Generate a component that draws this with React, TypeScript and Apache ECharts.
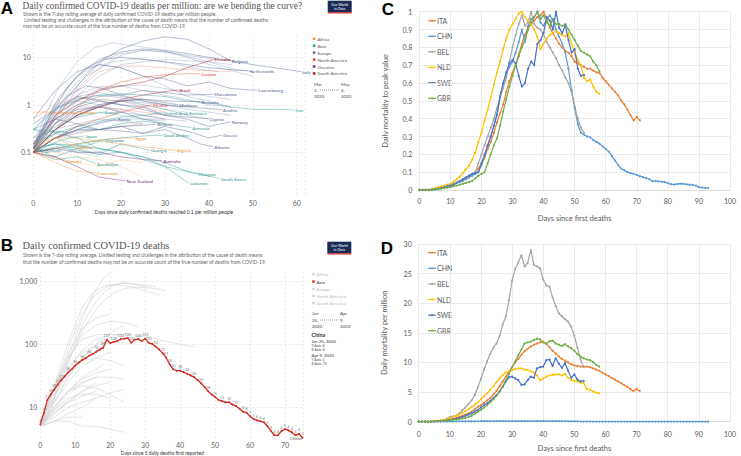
import React, { useEffect, useRef } from 'react';
import * as echarts from 'echarts';

// ---------------- Panel A (deaths per million, days since 0.1/million) ----------------
const aContinents = ['Africa', 'Asia', 'Europe', 'North America', 'Oceania', 'South America'];
const aXTicks = [0, 10, 20, 30, 40, 50, 60];

const aEurope: [string, number[][]][] = [
  ['Italy', [[0, 0.12], [3, 0.5], [6, 1.5], [10, 4], [15, 9], [20, 13], [25, 15], [30, 14], [35, 12], [40, 10], [45, 8.5], [50, 7], [55, 6], [61, 5]]],
  ['Belgium', [[0, 0.12], [4, 0.4], [8, 1.5], [12, 4], [16, 9], [20, 15], [25, 22], [30, 27], [35, 24], [40, 15], [45, 8.3]]],
  ['Netherlands', [[0, 0.12], [4, 0.6], [8, 2.5], [12, 6], [16, 9], [20, 10], [25, 9], [30, 8], [35, 7], [40, 6], [45, 5.5], [49, 5.2]]],
  ['Luxembourg', [[0, 0.5], [5, 2], [10, 5], [15, 7], [20, 6], [25, 4], [30, 3.5], [35, 2.5], [40, 3], [45, 2.2], [51, 2]]],
  ['Macedonia', [[0, 0.15], [5, 0.5], [10, 1], [15, 1.5], [20, 1.6], [25, 2], [30, 1.8], [35, 1.6], [41, 1.66]]],
  ['Moldova', [[0, 0.12], [5, 0.3], [10, 0.6], [15, 0.9], [20, 1.2], [25, 1.3], [30, 1.1], [33, 1.0]]],
  ['Romania', [[0, 0.1], [5, 0.3], [10, 0.7], [15, 1], [20, 1.2], [25, 1.3], [30, 1.2], [38, 1.17]]],
  ['Austria', [[0, 0.15], [4, 0.6], [8, 1.6], [12, 2.5], [16, 2.2], [20, 1.6], [25, 1.2], [30, 1], [35, 0.9], [43, 0.79]]],
  ['Cyprus', [[0, 0.4], [5, 0.8], [10, 1.5], [15, 1.2], [20, 1], [25, 0.8], [30, 0.6], [35, 0.55], [40, 0.51]]],
  ['Norway', [[0, 0.12], [5, 0.4], [10, 0.9], [15, 1.2], [20, 1], [25, 0.9], [30, 0.6], [35, 0.5], [40, 0.35], [45, 0.44]]],
  ['Russia', [[0, 0.1], [5, 0.2], [10, 0.3], [15, 0.42], [19, 0.5]]],
  ['Belarus', [[0, 0.1], [5, 0.2], [10, 0.28], [15, 0.3], [20, 0.35], [25, 0.37], [28, 0.39]]],
  ['Greece', [[0, 0.1], [5, 0.2], [10, 0.3], [15, 0.3], [20, 0.28], [25, 0.25], [30, 0.35], [35, 0.28], [40, 0.2], [43, 0.23]]],
  ['Albania', [[0, 0.3], [5, 0.5], [10, 0.4], [15, 0.3], [20, 0.35], [25, 0.25], [30, 0.3], [35, 0.2], [38, 0.15], [41, 0.13]]],
  ['Spain', [[0, 0.13], [3, 0.7], [6, 2.5], [10, 8], [14, 16], [18, 20], [22, 18], [28, 15], [34, 11], [40, 8], [46, 5.5], [50, 5]]],
  ['France', [[0, 0.11], [5, 0.5], [10, 2.2], [15, 6], [20, 11], [25, 14], [30, 13], [35, 10], [40, 7], [46, 5], [50, 4]]],
  ['United Kingdom', [[0, 0.12], [5, 0.8], [10, 3], [15, 8], [20, 12], [25, 14], [30, 13], [35, 11], [40, 9.5], [44, 8.5]]],
  ['Sweden', [[0, 0.1], [5, 0.4], [10, 1.5], [15, 4], [20, 7], [25, 8], [30, 9], [35, 8.5], [40, 8], [45, 7]]],
  ['Ireland', [[0, 0.12], [6, 1], [12, 4], [18, 8], [24, 9.5], [30, 8], [36, 6], [42, 5]]],
  ['Switzerland', [[0, 0.12], [5, 1], [10, 4], [15, 7], [20, 6], [25, 4], [30, 2.5], [35, 1.5], [40, 1.2], [45, 0.9]]],
  ['Denmark', [[0, 0.15], [5, 0.7], [10, 1.5], [15, 1.8], [20, 1.5], [25, 1.2], [30, 1], [35, 0.8], [40, 0.7], [45, 0.6]]],
  ['Portugal', [[0, 0.1], [5, 0.6], [10, 1.6], [15, 2.4], [20, 2.5], [25, 2], [30, 1.6], [35, 1.3], [40, 1], [45, 0.9]]],
  ['Germany', [[0, 0.1], [5, 0.4], [10, 1.2], [15, 2.2], [20, 2.5], [25, 2.6], [30, 2.2], [35, 1.8], [40, 1.5], [45, 1.3]]],
  ['Slovenia', [[0, 0.2], [5, 0.6], [10, 1.3], [15, 1.6], [20, 1.4], [25, 1], [30, 0.8], [35, 0.6], [40, 0.5]]],
  ['Bosnia and Herzegovina', [[0, 0.2], [5, 0.5], [10, 0.8], [15, 0.9], [20, 0.7], [25, 0.6], [30, 0.5], [35, 0.45]]],
  ['Hungary', [[0, 0.1], [5, 0.3], [10, 0.6], [15, 1], [20, 1.2], [25, 1.1], [30, 1], [34, 0.9]]],
  ['Poland', [[0, 0.1], [5, 0.2], [10, 0.3], [15, 0.4], [20, 0.5], [25, 0.5], [30, 0.45]]],
  ['Serbia', [[0, 0.15], [5, 0.4], [10, 0.8], [15, 0.9], [20, 0.7], [25, 0.5], [30, 0.5]]],
  ['Finland', [[0, 0.15], [5, 0.4], [10, 0.7], [15, 0.9], [20, 0.8], [25, 0.6], [30, 0.5]]],
  ['Estonia', [[0, 0.3], [5, 0.9], [10, 1.2], [15, 1], [20, 0.7], [25, 0.5], [30, 0.4]]],
  ['Croatia', [[0, 0.2], [5, 0.3], [10, 0.4], [15, 0.5], [20, 0.45], [25, 0.4]]],
];
const aNorthAmerica: [string, number[][]][] = [
  ['Canada', [[0, 0.1], [5, 0.3], [10, 0.9], [15, 2], [20, 3], [25, 3.8], [30, 4.3], [35, 4.5], [38, 4.5]]],
  ['Mexico', [[0, 0.1], [5, 0.2], [10, 0.35], [15, 0.5], [20, 0.7], [25, 0.9], [27, 1.0]]],
  ['United States', [[0, 0.1], [5, 0.5], [10, 2], [15, 5], [20, 6.5], [25, 6.5], [30, 6], [35, 5.5], [40, 5.2], [45, 5]]],
  ['Panama', [[0, 0.5], [5, 1], [10, 1.4], [15, 1.3], [20, 1.2], [25, 0.9], [30, 0.7]]],
  ['Dominican Republic', [[0, 0.15], [5, 0.5], [10, 0.9], [15, 0.9], [20, 0.8], [25, 0.7], [30, 0.6]]],
];
const aSouthAmerica: [string, number[][]][] = [
  ['Ecuador', [[0, 0.12], [5, 0.6], [10, 1.2], [15, 2], [20, 2.5], [25, 3], [30, 4], [35, 6], [41, 9]]],
  ['Brazil', [[0, 0.1], [5, 0.3], [10, 0.6], [15, 0.9], [20, 1.3], [25, 1.6], [30, 1.9], [33, 2.05]]],
  ['Peru', [[0, 0.1], [5, 0.3], [10, 0.6], [15, 0.9], [20, 1.2], [25, 1.4]]],
  ['Chile', [[0, 0.1], [5, 0.2], [10, 0.25], [15, 0.3], [20, 0.35], [25, 0.4]]],
];
const aAsia: [string, number[][]][] = [
  ['Iran', [[0, 0.3], [5, 0.8], [10, 1.3], [15, 1.6], [20, 1.7], [25, 1.6], [30, 1.5], [35, 1.2], [40, 1.1], [45, 0.9], [50, 0.8], [55, 0.8], [59.5, 0.78]]],
  ['Kuwait', [[0, 0.12], [4, 0.3], [8, 0.5], [12, 0.6], [16, 0.7]]],
  ['United Arab Emirates', [[0, 0.1], [5, 0.2], [10, 0.35], [15, 0.45], [20, 0.55], [25, 0.6], [29.5, 0.68]]],
  ['Armenia', [[0, 0.12], [5, 0.25], [10, 0.35], [15, 0.3], [20, 0.4], [25, 0.45], [30, 0.4], [36, 0.33]]],
  ['Maldives', [[0, 0.3], [3.4, 0.28]]],
  ['Saudi Arabia', [[0, 0.1], [5, 0.12], [10, 0.15], [15, 0.18], [20, 0.2], [25, 0.22], [29.5, 0.23]]],
  ['Japan', [[0, 0.1], [4, 0.15], [8, 0.2], [11.6, 0.22]]],
  ['Singapore', [[0, 0.12], [5, 0.15], [10, 0.12], [16, 0.18]]],
  ['Kyrgyzstan', [[0, 0.12], [1, 0.11]]],
  ['Georgia', [[0, 0.12], [5, 0.08], [10, 0.12], [15, 0.09], [20, 0.15], [26.6, 0.11]]],
  ['Azerbaijan', [[0, 0.1], [5, 0.07], [10, 0.08], [14.3, 0.058]]],
  ['Malaysia', [[0, 0.12], [5, 0.15], [10, 0.14], [15, 0.12], [20, 0.1], [25, 0.08], [30, 0.05], [37.3, 0.035]]],
  ['South Korea', [[0, 0.1], [5, 0.13], [10, 0.11], [15, 0.09], [20, 0.1], [25, 0.08], [30, 0.06], [35, 0.04], [42.5, 0.028]]],
  ['Lebanon', [[0, 0.15], [5, 0.25], [10, 0.2], [15, 0.12], [20, 0.1], [25, 0.07], [30, 0.05], [35.5, 0.022]]],
  ['Turkey', [[0, 0.12], [5, 0.5], [10, 1], [15, 1.3], [20, 1.2], [25, 1], [30, 0.8], [35, 0.7]]],
  ['Israel', [[0, 0.1], [5, 0.3], [10, 0.6], [15, 0.7], [20, 0.6], [25, 0.5], [30, 0.4]]],
  ['Bahrain', [[0, 0.3], [5, 0.2], [10, 0.15], [15, 0.1], [20, 0.15]]],
  ['Iraq', [[0, 0.1], [5, 0.15], [10, 0.1], [15, 0.08]]],
  ['Qatar', [[0, 0.1], [5, 0.12], [10, 0.14], [15, 0.18]]],
  ['Philippines', [[0, 0.1], [5, 0.12], [10, 0.13], [15, 0.12], [20, 0.1]]],
];
const aAfrica: [string, number[][]][] = [
  ['Sao Tome and Principe', [[0, 0.7], [3.6, 0.7]]],
  ['Egypt', [[0, 0.1], [5, 0.12], [10, 0.15], [15, 0.18], [20, 0.2], [23, 0.2]]],
  ['Djibouti', [[0, 0.15], [5, 0.2], [9.5, 0.13]]],
  ['Algeria', [[0, 0.12], [5, 0.2], [10, 0.2], [15, 0.17], [20, 0.15], [25, 0.13], [32.5, 0.11]]],
  ['Somalia', [[0, 0.1], [4, 0.08], [7.2, 0.067]]],
  ['Cameroon', [[0, 0.1], [5, 0.06], [10, 0.04], [14.3, 0.037]]],
  ['South Africa', [[0, 0.1], [5, 0.08], [10, 0.06], [15, 0.05], [20, 0.07], [25, 0.06]]],
  ['Morocco', [[0, 0.1], [5, 0.1], [10, 0.08], [15, 0.07], [20, 0.05], [25, 0.03]]],
];
const aOceania: [string, number[][]][] = [
  ['Australia', [[0, 0.1], [5, 0.12], [10, 0.1], [15, 0.1], [20, 0.08], [25, 0.07], [29.3, 0.067]]],
  ['New Zealand', [[0, 0.1], [5, 0.08], [10, 0.05], [15, 0.03], [21, 0.025]]],
];
const aLabeled = ['Italy', 'Belgium', 'Netherlands', 'Luxembourg', 'Macedonia', 'Moldova', 'Romania', 'Austria', 'Cyprus', 'Norway', 'Russia', 'Belarus', 'Greece', 'Albania',
  'Canada', 'Mexico', 'Ecuador', 'Brazil', 'Iran', 'Kuwait', 'United Arab Emirates', 'Armenia', 'Maldives', 'Saudi Arabia', 'Japan', 'Singapore', 'Kyrgyzstan', 'Georgia',
  'Azerbaijan', 'Malaysia', 'South Korea', 'Lebanon', 'Sao Tome and Principe', 'Egypt', 'Djibouti', 'Algeria', 'Somalia', 'Cameroon', 'Australia', 'New Zealand'];

// ---------------- Panel B (daily deaths, days since 5 daily deaths) ----------------
const bContinents = ['Africa', 'Asia', 'Europe', 'North America', 'South America'];
const bChina = [5.4, 8, 13, 16, 19, 23, 27, 31, 36, 40, 46, 51, 56, 60, 66, 70, 76, 82, 88, 117,
  104, 108, 112, 120, 122, 125, 105, 118, 120, 112, 122, 105, 101, 92, 82, 72, 61, 48, 40, 38,
  38, 36, 34, 32, 30, 27, 24, 21, 18, 16, 14.5, 13, 12.5, 12, 12, 11, 10.5, 9.5, 8.5, 8.2,
  7.2, 6.5, 6.2, 6, 5.8, 5, 4.2, 3.6, 3.6, 4.2, 4.5, 4.3, 4, 3.6, 3.8, 3.3];
const bOthers: [string, number[][]][] = [
  ['United States', [[0, 5], [3, 10], [6, 30], [9, 90], [12, 250], [15, 600], [18, 1100], [21, 1500]]],
  ['Italy', [[0, 5], [3, 12], [6, 30], [9, 70], [12, 160], [15, 300], [18, 480], [21, 640], [24, 760], [27, 800], [30, 790], [33, 760], [36, 700]]],
  ['Spain', [[0, 5], [3, 15], [6, 50], [9, 150], [12, 380], [15, 650], [18, 820], [21, 880], [24, 850], [27, 780], [30, 700], [34, 600]]],
  ['France', [[0, 5], [3, 10], [6, 25], [9, 70], [12, 200], [15, 400], [18, 650], [21, 850], [24, 950], [27, 900], [30, 800]]],
  ['United Kingdom', [[0, 6], [3, 15], [6, 40], [9, 120], [12, 300], [15, 550], [18, 750], [21, 880], [24, 920], [27, 900], [30, 850], [33, 820]]],
  ['Germany', [[0, 6], [4, 20], [8, 60], [12, 140], [16, 200], [20, 230], [24, 220], [28, 190]]],
  ['Iran', [[0, 6], [4, 15], [8, 40], [12, 80], [16, 120], [20, 140], [24, 145], [28, 135], [32, 125], [36, 110], [40, 100], [44, 90]]],
  ['Belgium', [[0, 5], [4, 20], [8, 70], [12, 180], [16, 260], [20, 300]]],
  ['Netherlands', [[0, 5], [4, 20], [8, 60], [12, 120], [16, 140], [20, 145], [24, 130]]],
  ['Brazil', [[0, 5], [4, 12], [8, 30], [12, 60], [16, 100], [20, 150], [24, 200]]],
  ['Canada', [[0, 5], [4, 12], [8, 30], [12, 60], [16, 100], [20, 130]]],
  ['Turkey', [[0, 6], [4, 20], [8, 45], [12, 75], [16, 95], [20, 110], [24, 105]]],
  ['Switzerland', [[0, 5], [4, 15], [8, 35], [12, 55], [16, 60], [20, 55], [24, 45]]],
  ['Sweden', [[0, 5], [4, 12], [8, 25], [12, 45], [16, 60], [20, 75]]],
  ['Portugal', [[0, 5], [4, 10], [8, 18], [12, 25], [16, 30], [20, 30], [24, 28]]],
  ['Austria', [[0, 5], [4, 10], [8, 18], [12, 22], [16, 20], [20, 16], [24, 12]]],
  ['Ireland', [[0, 5], [4, 10], [8, 18], [12, 28], [16, 35], [20, 40]]],
  ['Japan', [[0, 5], [4, 6], [8, 8], [12, 10], [16, 14], [20, 17], [24, 19]]],
  ['South Korea', [[0, 5], [4, 6], [8, 6], [12, 5], [16, 5], [20, 4.5], [24, 4]]],
  ['Indonesia', [[0, 5], [4, 8], [8, 13], [12, 18], [16, 22], [20, 25]]],
  ['Philippines', [[0, 5], [4, 7], [8, 10], [12, 12], [16, 14]]],
  ['India', [[0, 5], [4, 9], [8, 16], [12, 24], [16, 30]]],
  ['Denmark', [[0, 5], [4, 9], [8, 14], [12, 16], [16, 16], [20, 14]]],
  ['Ecuador', [[0, 5], [4, 10], [8, 18], [12, 30], [16, 40], [18, 48]]],
  ['Romania', [[0, 5], [4, 8], [8, 12], [12, 15], [16, 18]]],
  ['Mexico', [[0, 5], [4, 8], [8, 12], [12, 18], [16, 25]]],
  ['Pakistan', [[0, 5], [4, 6], [8, 7], [12, 7]]],
];

// ---------------- Panels C & D (Excel charts, values per day since first deaths) ----------------
const cdCountries = ['ITA', 'CHN', 'BEL', 'NLD', 'SWE', 'GBR'];

const itaC = [0, 0, 0, 0, 0.003, 0.005, 0.008, 0.01, 0.015, 0.02, 0.025, 0.03, 0.04, 0.05, 0.06, 0.07, 0.08, 0.09, 0.1, 0.12,
  0.15, 0.18, 0.23, 0.27, 0.32, 0.38, 0.43, 0.48, 0.55, 0.61, 0.66, 0.7, 0.76, 0.82, 0.87, 0.91, 0.93, 0.95, 0.97, 0.98,
  1.0, 0.96, 0.91, 0.88, 0.85, 0.82, 0.8, 0.78, 0.77, 0.75, 0.72, 0.71, 0.7, 0.69, 0.68, 0.68, 0.67, 0.66, 0.655, 0.63,
  0.61, 0.59, 0.57, 0.55, 0.53, 0.5, 0.48, 0.45, 0.42, 0.39, 0.41, 0.39];
const chnC = [0, 0, 0, 0, 0.005, 0.005, 0.008, 0.01, 0.015, 0.02, 0.03, 0.035, 0.04, 0.045, 0.05, 0.06, 0.07, 0.08, 0.09, 0.1,
  0.14, 0.19, 0.25, 0.3, 0.36, 0.43, 0.53, 0.6, 0.65, 0.69, 0.72, 0.77, 0.83, 0.9, 0.83, 0.92, 0.96, 0.97, 1.0, 0.94,
  0.92, 0.96, 0.98, 0.95, 0.9, 0.86, 0.82, 0.77, 0.68, 0.56, 0.46, 0.37, 0.32, 0.31, 0.3, 0.295, 0.28, 0.27, 0.26, 0.245,
  0.23, 0.215, 0.19, 0.165, 0.14, 0.12, 0.11, 0.1, 0.095, 0.09, 0.085, 0.077, 0.072, 0.067, 0.06, 0.05, 0.05, 0.048, 0.047, 0.044,
  0.038, 0.033, 0.03, 0.033, 0.036, 0.034, 0.032, 0.03, 0.028, 0.025, 0.016, 0.014, 0.012, 0.011];
const belC = [0, 0, 0, 0, 0, 0.005, 0.005, 0.01, 0.01, 0.02, 0.03, 0.03, 0.04, 0.05, 0.06, 0.07, 0.08, 0.09, 0.1, 0.15,
  0.2, 0.25, 0.3, 0.35, 0.4, 0.46, 0.52, 0.57, 0.63, 0.72, 0.8, 0.87, 0.93, 0.98, 0.92, 0.94, 1.0, 0.93, 0.91, 0.9,
  0.87, 0.83, 0.8, 0.77, 0.74, 0.7, 0.67, 0.63, 0.6, 0.55, 0.47, 0.4, 0.35, 0.32];
const nldC = [0, 0, 0, 0, 0.005, 0.01, 0.015, 0.02, 0.025, 0.03, 0.035, 0.045, 0.06, 0.075, 0.095, 0.115, 0.135, 0.17, 0.21, 0.27,
  0.32, 0.39, 0.45, 0.52, 0.59, 0.66, 0.72, 0.79, 0.85, 0.9, 0.93, 0.96, 0.99, 1.0, 0.97, 0.95, 0.93, 0.9, 0.86, 0.79,
  0.82, 0.85, 0.87, 0.88, 0.89, 0.88, 0.87, 0.86, 0.88, 0.82, 0.77, 0.73, 0.7, 0.63, 0.61, 0.62, 0.58, 0.55, 0.54];
const sweC = [0, 0, 0, 0, 0, 0.003, 0.005, 0.01, 0.015, 0.02, 0.025, 0.03, 0.04, 0.05, 0.06, 0.07, 0.08, 0.09, 0.095, 0.1,
  0.15, 0.2, 0.25, 0.3, 0.36, 0.42, 0.52, 0.6, 0.66, 0.71, 0.73, 0.71, 0.64, 0.58, 0.6, 0.68, 0.72, 0.7, 0.82, 0.84,
  0.88, 0.97, 0.95, 0.9, 1.0, 0.91, 0.88, 0.925, 0.84, 0.77, 0.79, 0.68, 0.64, 0.645];
const gbrC = [0, 0, 0, 0, 0, 0.003, 0.005, 0.007, 0.01, 0.013, 0.016, 0.02, 0.025, 0.03, 0.035, 0.04, 0.045, 0.05, 0.065, 0.08,
  0.09, 0.1, 0.15, 0.2, 0.25, 0.29, 0.36, 0.44, 0.51, 0.58, 0.64, 0.7, 0.75, 0.8, 0.84, 0.9, 0.94, 0.97, 1.0, 0.96,
  0.98, 0.94, 0.92, 0.96, 0.93, 0.93, 0.92, 0.93, 0.9, 0.87, 0.84, 0.81, 0.78, 0.77, 0.76, 0.75, 0.72, 0.7, 0.665];

const itaD = [0, 0, 0, 0, 0, 0.05, 0.1, 0.15, 0.2, 0.3, 0.4, 0.5, 0.6, 0.8, 1.0, 1.2, 1.4, 1.7, 2.1, 2.5,
  2.8, 3.2, 3.6, 4.0, 4.6, 5.2, 6.0, 6.8, 7.6, 8.4, 9.2, 10.0, 10.6, 11.3, 11.9, 12.3, 12.7, 13.0, 13.2, 13.4,
  13.5, 13.1, 12.6, 12.0, 11.5, 11.0, 10.6, 10.3, 10.0, 9.7, 9.5, 9.4, 9.3, 9.3, 9.3, 9.2, 9.0, 8.8, 8.6, 8.3,
  8.0, 7.7, 7.4, 7.1, 6.8, 6.5, 6.2, 5.9, 5.5, 5.2, 5.5, 5.2];
const chnD = [0, 0, 0, 0, 0, 0.005, 0.01, 0.01, 0.015, 0.02, 0.03, 0.03, 0.035, 0.04, 0.045, 0.05, 0.06, 0.06, 0.07, 0.075,
  0.08, 0.085, 0.09, 0.09, 0.095, 0.1, 0.1, 0.1, 0.1, 0.1, 0.1, 0.1, 0.1, 0.1, 0.1, 0.1, 0.1, 0.1, 0.1, 0.1,
  0.1, 0.1, 0.1, 0.1, 0.09, 0.09, 0.08, 0.08, 0.07, 0.06, 0.05, 0.04, 0.035, 0.03, 0.03, 0.03, 0.03, 0.025, 0.025, 0.025,
  0.02, 0.02, 0.02, 0.015, 0.015, 0.01, 0.01, 0.01, 0.01, 0.01, 0.01, 0.01, 0.01, 0.01, 0.01, 0.005, 0.005, 0.005, 0.005, 0.005,
  0.005, 0.005, 0.005, 0.005, 0.005, 0.005, 0.005, 0.005, 0.005, 0.005, 0.002, 0.002, 0.002, 0.002];
const belD = [0, 0, 0, 0, 0.05, 0.1, 0.15, 0.2, 0.3, 0.5, 0.8, 0.9, 1.0, 1.4, 1.9, 2.4, 3.0, 3.6, 4.5, 5.8,
  7.3, 8.8, 10.2, 11.5, 12.5, 13.2, 14.5, 16.4, 17.8, 20.5, 23.8, 25.8, 26.9, 28.1, 26.2, 26.8, 29.0, 26.5, 26.2, 25.9,
  24.0, 23.0, 22.8, 21.0, 19.5, 18.3, 17.8, 17.3, 16.9, 16.0, 14.5, 12.5, 10.5, 9.2];
const nldD = [0, 0, 0, 0, 0.05, 0.1, 0.15, 0.2, 0.3, 0.45, 0.6, 0.8, 1.0, 1.2, 1.5, 1.8, 2.1, 2.5, 2.9, 3.3,
  3.8, 4.3, 4.8, 5.4, 6.0, 6.7, 7.3, 7.9, 8.3, 8.5, 8.7, 8.9, 9.0, 9.0, 8.8, 8.7, 8.5, 8.3, 7.8, 7.0,
  7.3, 7.6, 7.8, 7.9, 8.0, 8.0, 7.8, 8.1, 7.4, 7.0, 6.9, 6.8, 6.6, 6.5, 5.5, 5.4, 5.1, 4.9, 4.8];
const sweD = [0, 0, 0, 0, 0, 0, 0.05, 0.1, 0.15, 0.2, 0.3, 0.4, 0.5, 0.6, 0.8, 1.0, 1.2, 1.4, 1.7, 2.0,
  2.4, 2.8, 3.1, 3.5, 4.0, 4.5, 5.1, 5.9, 6.8, 7.5, 7.6, 7.3, 7.0, 6.2, 6.3, 7.0, 7.6, 7.4, 9.0, 9.2,
  9.3, 10.4, 10.5, 9.4, 10.7, 9.8, 9.1, 9.9, 8.6, 7.4, 8.0, 7.1, 6.8, 6.9];
const gbrD = [0, 0, 0, 0, 0, 0.05, 0.1, 0.1, 0.15, 0.2, 0.25, 0.3, 0.35, 0.45, 0.55, 0.65, 0.8, 1.0, 1.3, 1.7,
  2.0, 2.4, 2.8, 3.3, 3.8, 4.4, 5.1, 6.0, 7.0, 8.1, 9.2, 10.2, 11.2, 12.2, 13.2, 13.4, 13.5, 13.8, 14.0, 13.9,
  13.4, 13.2, 13.6, 13.7, 13.2, 13.0, 12.8, 13.1, 12.7, 12.4, 12.0, 11.4, 11.0, 10.7, 10.5, 10.4, 10.1, 9.6, 9.3];

const cSeriesData = [itaC, chnC, belC, nldC, sweC, gbrC];
const dSeriesData = [itaD, chnD, belD, nldD, sweD, gbrD];

// ---------------- styles ----------------
const SANS = 'Lato';
const SERIF = 'Liberation Serif';
const contColor: Record<string, string> = {
  Africa: '#F0A04B', Asia: '#37A09B', Europe: '#5B6D99', 'North America': '#E5533D', Oceania: '#7B2F8E', 'South America': '#A3273B',
};
const contText: Record<string, string> = {
  Africa: '#EE8E2E', Asia: '#2E9690', Europe: '#4E5F8C', 'North America': '#E2412C', Oceania: '#6E2384', 'South America': '#B02838',
};
const cdColors = ['#ED7D31', '#5B9BD5', '#A5A5A5', '#FFC000', '#4472C4', '#70AD47'];

function aSeries(list: [string, number[][]][], cont: string) {
  return list.map(([name, pts]) => {
    const lab = aLabeled.indexOf(name) >= 0;
    return {
      type: 'line', name, xAxisIndex: 0, yAxisIndex: 0, data: pts, showSymbol: false, silent: true,
      lineStyle: { width: 0.6, color: contColor[cont], opacity: lab ? 0.75 : 0.45 },
      endLabel: lab ? { show: true, formatter: name, color: contText[cont], fontSize: 4.6, fontFamily: SANS, distance: 1 } : { show: false },
      z: lab ? 3 : 2,
    };
  });
}

function buildOption() {
  const logFmt = (v: number) => {
    const r = parseFloat(Number(v).toPrecision(2));
    return r >= 1000 ? r.toLocaleString('en-US') : String(r);
  };
  const dashed = { color: '#dcdcdc', type: [2, 2], width: 0.6 };
  const xlGrid = { color: '#e2e2e2', width: 0.7 };

  const series: any[] = [];
  series.push(...aSeries(aEurope, 'Europe'));
  series.push(...aSeries(aAsia, 'Asia'));
  series.push(...aSeries(aAfrica, 'Africa'));
  series.push(...aSeries(aOceania, 'Oceania'));
  series.push(...aSeries(aSouthAmerica, 'South America'));
  series.push(...aSeries(aNorthAmerica, 'North America'));

  bOthers.forEach(([name, pts]) => {
    series.push({ type: 'line', name, xAxisIndex: 1, yAxisIndex: 1, data: pts, showSymbol: false, silent: true,
      lineStyle: { width: 0.6, color: '#d4d4d4' }, z: 2 });
  });
  const chinaLast = bChina.length - 1;
  series.push({
    type: 'line', name: 'China', xAxisIndex: 1, yAxisIndex: 1, z: 5,
    data: bChina.map((v, i) => [i, v]),
    symbol: 'circle', symbolSize: 1.8, showSymbol: true,
    lineStyle: { width: 1.3, color: '#D42A20' }, itemStyle: { color: '#D42A20' },
    label: { show: true, position: 'top', distance: 1, fontSize: 3.6, color: '#777', fontFamily: SANS,
      formatter: (p: any) => String(Math.round(p.value[1])) },
    labelLayout: { hideOverlap: true },
    markPoint: {
      symbol: 'circle', symbolSize: 0, silent: true,
      data: [{ coord: [chinaLast, bChina[chinaLast]], label: { show: true, formatter: 'China', position: 'left', distance: 1, fontSize: 4.6, color: '#555', fontFamily: SANS } }],
    },
  });

  cdCountries.forEach((name, k) => {
    series.push({
      type: 'line', name, xAxisIndex: 2, yAxisIndex: 2, data: cSeriesData[k].map((v, i) => [i, v]),
      symbol: 'circle', symbolSize: 2, showSymbol: true,
      lineStyle: { width: 1.2, color: cdColors[k] }, itemStyle: { color: cdColors[k] }, z: 3,
    });
    series.push({
      type: 'line', name, xAxisIndex: 3, yAxisIndex: 3, data: dSeriesData[k].map((v, i) => [i, v]),
      symbol: 'circle', symbolSize: 2, showSymbol: true,
      lineStyle: { width: 1.2, color: cdColors[k] }, itemStyle: { color: cdColors[k] }, z: 3,
    });
  });

  const g: any[] = [];
  const txt = (x: number, y: number, text: string, fontSize: number, fill: string, extra: any = {}) =>
    g.push({ type: 'text', x, y, silent: true, style: { text, fontSize, fill, fontFamily: SANS, align: 'left', verticalAlign: 'middle', ...extra } });

  // Panel letters
  txt(7, 8, 'A', 17, '#000', { fontFamily: 'Liberation Sans', fontWeight: 'bold', align: 'center' });
  txt(7, 245, 'B', 17, '#000', { fontFamily: 'Liberation Sans', fontWeight: 'bold', align: 'center' });
  txt(388, 9, 'C', 17, '#000', { fontFamily: 'Liberation Sans', fontWeight: 'bold', align: 'center' });
  txt(387, 248, 'D', 17, '#000', { fontFamily: 'Liberation Sans', fontWeight: 'bold', align: 'center' });

  // Panel A header
  txt(22.5, 5.5, 'Daily confirmed COVID-19 deaths per million: are we bending the curve?', 9.4, '#555', { fontFamily: SERIF });
  txt(23, 13.5, 'Shown is the 7-day rolling average of daily confirmed COVID-19 deaths per million people.', 4.9, '#666');
  txt(23, 19.5, ' Limited testing and challenges in the attribution of the cause of death means that the number of confirmed deaths', 4.9, '#666');
  txt(23, 25.5, 'may not be an accurate count of the true number of deaths from COVID-19.', 4.9, '#666');
  // Panel B header
  txt(22.5, 245.5, 'Daily confirmed COVID-19 deaths', 10.4, '#555', { fontFamily: SERIF });
  txt(23, 254.7, 'Shown is the 7-day rolling average. Limited testing and challenges in the attribution of the cause of death means', 4.9, '#666');
  txt(23, 262.3, 'that the number of confirmed deaths may not be an accurate count of the true number of deaths from COVID-19.', 4.9, '#666');

  // Logos
  [[327.7, 0.7], [327.3, 241.7]].forEach(([lx, ly]) => {
    g.push({ type: 'rect', silent: true, shape: { x: lx, y: ly, width: 24, height: 11.4 }, style: { fill: '#1A2B57' } });
    g.push({ type: 'rect', silent: true, shape: { x: lx, y: ly + 11.4, width: 24, height: 1.4 }, style: { fill: '#C8373A' } });
    txt(lx + 12, ly + 3.8, 'Our World', 3.6, '#fff', { align: 'center' });
    txt(lx + 12, ly + 7.8, 'in Data', 3.6, '#fff', { align: 'center' });
  });

  // Legend A
  aContinents.forEach((c, i) => {
    const y = 38.7 + i * 6.95;
    g.push({ type: 'rect', silent: true, shape: { x: 312.8, y: y - 1.3, width: 2.6, height: 2.6 }, style: { fill: contColor[c] } });
    txt(317.5, y, c, 4.6, '#555');
  });
  txt(314, 84, 'Mar', 4.4, '#444'); txt(341, 84, 'May', 4.4, '#444');
  txt(314, 90, '3,', 4.4, '#444'); txt(341, 90, '4,', 4.4, '#444');
  txt(314, 96, '2020', 4.4, '#444'); txt(341, 96, '2020', 4.4, '#444');
  g.push({ type: 'line', silent: true, shape: { x1: 320, y1: 90, x2: 339, y2: 90 }, style: { stroke: '#555', lineWidth: 0.6, lineDash: [1, 1] } });

  // Legend B
  bContinents.forEach((c, i) => {
    const y = 274.3 + i * 7.2;
    const on = c === 'Asia';
    g.push({ type: 'rect', silent: true, shape: { x: 312.3, y: y - 1.2, width: 2.4, height: 2.4 }, style: { fill: on ? '#D42A20' : '#d0d0d0' } });
    txt(316.5, y, c, 4.6, on ? '#333' : '#bbb');
  });
  txt(312, 313.3, 'Jan', 4.4, '#444'); txt(340, 313.3, 'Apr', 4.4, '#444');
  txt(312, 320, '25,', 4.4, '#444'); txt(340, 320, '9,', 4.4, '#444');
  txt(312, 326.5, '2020', 4.4, '#444'); txt(340, 326.5, '2020', 4.4, '#444');
  g.push({ type: 'line', silent: true, shape: { x1: 320, y1: 320, x2: 338.5, y2: 320 }, style: { stroke: '#555', lineWidth: 0.6, lineDash: [1, 1] } });
  txt(311.5, 334.5, 'China', 5.4, '#333', { fontWeight: 'bold' });
  txt(311.5, 341, 'Jan 25, 2020', 4.3, '#333');
  txt(311.5, 345.5, 'Y Axis: 6', 3.5, '#444');
  txt(311.5, 349.5, 'X Axis: 0', 3.5, '#444');
  txt(311.5, 355, 'Apr 9, 2020', 4.3, '#333');
  txt(311.5, 359.5, 'Y Axis: 3', 3.5, '#444');
  txt(311.5, 363.5, 'X Axis: 75', 3.5, '#444');

  // x-axis titles A/B
  txt(164, 211.5, 'Days since daily confirmed deaths reached 0.1 per million people', 4.9, '#333', { align: 'center' });
  txt(162.3, 452.7, 'Days since 5 daily deaths first reported', 4.9, '#333', { align: 'center' });

  // Excel legends C/D
  cdCountries.forEach((name, i) => {
    [[20.8, 15.5], [252.7, 15.6]].forEach(([y0, step]) => {
      const y = y0 + i * step;
      g.push({ type: 'line', silent: true, shape: { x1: 428, y1: y, x2: 436, y2: y }, style: { stroke: cdColors[i], lineWidth: 1.2 } });
      g.push({ type: 'circle', silent: true, shape: { cx: 432, cy: y, r: 1 }, style: { fill: cdColors[i] } });
      txt(437, y, name, 7, '#595959');
    });
  });

  const noLine = { show: false };
  return {
    animation: false,
    backgroundColor: '#fff',
    textStyle: { fontFamily: SANS },
    grid: [
      { left: 33.3, top: 35.9, width: 272.2, height: 160.1 },
      { left: 40.3, top: 272, width: 263.2, height: 166 },
      { left: 419.3, top: 11.7, width: 310.7, height: 178.3 },
      { left: 418.7, top: 244, width: 311.3, height: 177.7 },
    ],
    xAxis: [
      { gridIndex: 0, type: 'value', min: 0, max: 62, interval: 10, axisLine: noLine, axisTick: noLine,
        axisLabel: { fontSize: 7, color: '#666', margin: 3, showMaxLabel: false, fontFamily: SANS,
          formatter: (v: number) => (aXTicks.indexOf(v) >= 0 ? String(v) : '') },
        splitLine: { show: true, lineStyle: dashed } },
      { gridIndex: 1, type: 'value', min: 0, max: 75.3, interval: 10, axisLine: noLine, axisTick: noLine,
        axisLabel: { fontSize: 7, color: '#666', margin: 3, showMaxLabel: false, fontFamily: SANS },
        splitLine: { show: true, lineStyle: dashed } },
      { gridIndex: 2, type: 'value', min: 0, max: 100, interval: 10, axisLine: { show: true, lineStyle: { color: '#d9d9d9', width: 0.8 } },
        axisTick: noLine, axisLabel: { fontSize: 7, color: '#595959', margin: 7.5 },
        splitLine: { show: true, lineStyle: xlGrid },
        name: 'Days since first deaths', nameLocation: 'middle', nameGap: 24, nameTextStyle: { fontSize: 7.5, color: '#595959' } },
      { gridIndex: 3, type: 'value', min: 0, max: 100, interval: 10, axisLine: { show: true, lineStyle: { color: '#d9d9d9', width: 0.8 } },
        axisTick: noLine, axisLabel: { fontSize: 7, color: '#595959', margin: 8.5 },
        splitLine: { show: true, lineStyle: xlGrid },
        name: 'Days since first deaths', nameLocation: 'middle', nameGap: 22.6, nameTextStyle: { fontSize: 7.5, color: '#595959' } },
    ],
    yAxis: [
      { gridIndex: 0, type: 'log', logBase: 10, min: 0.012, max: 28.2, axisLine: noLine, axisTick: noLine,
        axisLabel: { fontSize: 7, color: '#666', margin: 2.5, showMinLabel: false, showMaxLabel: false, formatter: logFmt },
        splitLine: { show: true, lineStyle: dashed, showMinLine: false, showMaxLine: false } },
      { gridIndex: 1, type: 'log', logBase: 10, min: 3.26, max: 1390, axisLine: noLine, axisTick: noLine,
        axisLabel: { fontSize: 7, color: '#666', margin: 3, showMinLabel: false, showMaxLabel: false, formatter: logFmt },
        splitLine: { show: true, lineStyle: dashed, showMinLine: false, showMaxLine: false } },
      { gridIndex: 2, type: 'value', min: 0, max: 1, interval: 0.1, axisLine: noLine, axisTick: noLine,
        axisLabel: { fontSize: 7, color: '#595959', margin: 7, formatter: (v: number) => String(Number(v.toFixed(1))) },
        splitLine: { show: true, lineStyle: xlGrid },
        name: 'Daily mortality to peak value', nameLocation: 'middle', nameGap: 30, nameRotate: 90,
        nameTextStyle: { fontSize: 7.5, color: '#595959' } },
      { gridIndex: 3, type: 'value', min: 0, max: 30, interval: 5, axisLine: noLine, axisTick: noLine,
        axisLabel: { fontSize: 7, color: '#595959', margin: 7 },
        splitLine: { show: true, lineStyle: xlGrid },
        name: 'Daily mortality per million', nameLocation: 'middle', nameGap: 30, nameRotate: 90,
        nameTextStyle: { fontSize: 7.5, color: '#595959' } },
    ],
    graphic: { elements: g },
    series,
  };
}

export default function App() {
  const ref = useRef<HTMLDivElement>(null);
  useEffect(() => {
    document.body.style.margin = '0';
    const chart = echarts.init(ref.current as HTMLDivElement, null, { renderer: 'svg' });
    chart.setOption(buildOption() as any);
    return () => chart.dispose();
  }, []);
  return <div ref={ref} style={{ width: 741, height: 456, background: '#fff' }} />;
}
